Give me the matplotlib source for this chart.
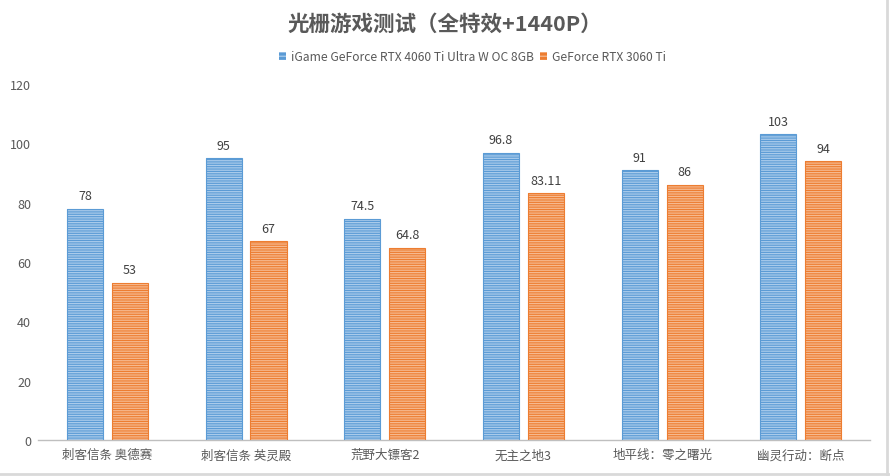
import matplotlib
matplotlib.use("Agg")
import matplotlib.pyplot as plt
import numpy as np

plt.rcParams['font.family'] = ['Noto Sans CJK SC', 'DejaVu Sans']

categories = ['刺客信条 奥德赛', '刺客信条 英灵殿', '荒野大镖客2', '无主之地3', '地平线：零之曙光', '幽灵行动：断点']
series_names = ['iGame GeForce RTX 4060 Ti Ultra W OC 8GB', 'GeForce RTX 3060 Ti']
rtx4060ti = [78, 95, 74.5, 96.8, 91, 103]
rtx3060ti = [53, 67, 64.8, 83.11, 86, 94]
label_4060 = ['78', '95', '74.5', '96.8', '91', '103']
label_3060 = ['53', '67', '64.8', '83.11', '86', '94']
yticks = [0, 20, 40, 60, 80, 100, 120]

fig = plt.figure(figsize=(8.9, 4.77), dpi=100)
fig.patch.set_facecolor('white')
ax = fig.add_axes([0.0427, 0.0755, 0.935, 0.7463])

x = np.arange(len(categories))
w = 0.26
off = 0.162
plt.rcParams['hatch.linewidth'] = 0.9

specs = [(rtx4060ti, label_4060, -off, '#5B9BD5', '#A9CBEB'),
         (rtx3060ti, label_3060, off, '#ED7D31', '#F6B98F')]
for vals, labs, o, fc, hc in specs:
    ax.bar(x + o, vals, w, color=fc, edgecolor=hc, hatch='-------', linewidth=0, zorder=2)
    ax.bar(x + o, vals, w, facecolor='none', edgecolor=fc, linewidth=0.8, zorder=3)
    for xi, v, t in zip(x + o, vals, labs):
        ax.text(xi, v + 2.2, t, ha='center', va='bottom', fontsize=9, color='#404040')

ax.set_xlim(-0.5, len(categories) - 0.5)
ax.set_ylim(0, 120)
ax.set_yticks(yticks)
ax.set_xticks(x)
ax.set_xticklabels(categories, fontsize=9, color='#595959')
ax.tick_params(axis='y', labelsize=9, colors='#595959', length=0, pad=5)
ax.tick_params(axis='x', length=0, pad=6)
for s in ['top', 'right', 'left']:
    ax.spines[s].set_visible(False)
ax.spines['bottom'].set_color('#BFBFBF')
ax.spines['bottom'].set_linewidth(1)

fig.text(0.5, 0.948, '光栅游戏测试（全特效+1440P）', ha='center', va='center',
         fontsize=15.5, fontweight='bold', color='#595959')

from matplotlib.patches import Patch
handles = [Patch(facecolor='#5B9BD5', edgecolor='#A9CBEB', hatch='----', linewidth=0),
           Patch(facecolor='#ED7D31', edgecolor='#F6B98F', hatch='----', linewidth=0)]
fig.legend(handles, series_names, loc='center', bbox_to_anchor=(0.531, 0.879), ncol=2,
           frameon=False, fontsize=8.7, handlelength=0.6, handleheight=0.6,
           handletextpad=0.4, columnspacing=0.5, labelcolor='#595959')

# light frame border
fig.add_artist(plt.Line2D([0, 1], [0.004, 0.004], transform=fig.transFigure, color='#D9D9D9', lw=2))
fig.add_artist(plt.Line2D([0.997, 0.997], [0, 1], transform=fig.transFigure, color='#D9D9D9', lw=2))

fig.savefig('out.png', dpi=100)
